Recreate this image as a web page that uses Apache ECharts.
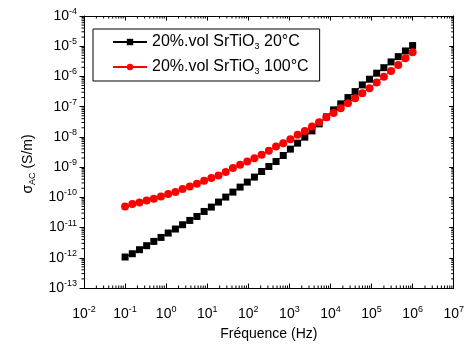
<!DOCTYPE html>
<html>
<head>
<meta charset="utf-8">
<script src="https://cdn.jsdelivr.net/npm/echarts@6/dist/echarts.min.js"></script>
<style>
  html, body { margin: 0; padding: 0; background: #fff; }
  #chart { width: 467px; height: 347px; }
</style>
</head>
<body>
<div id="chart"></div>
<script>
// frequency points (Hz)
const freq = [
  0.1, 0.15, 0.224, 0.335, 0.501, 0.75, 1.12, 1.68, 2.51, 3.76,
  5.62, 8.41, 12.6, 18.8, 28.2, 42.2, 63.1, 94.4, 141, 211,
  316, 473, 708, 1059, 1585, 2371, 3548, 5309, 7943, 11885,
  17783, 26607, 39811, 59566, 89125, 133352, 199526, 298538, 446684, 668344,
  1000000
];

// sigma AC (S/m), 20 °C
const sigma20 = [
  1.06e-12, 1.36e-12, 1.85e-12, 2.51e-12, 3.48e-12, 4.71e-12, 6.59e-12, 8.93e-12, 1.24e-11, 1.72e-11,
  2.33e-11, 3.41e-11, 4.76e-11, 6.97e-11, 1.02e-10, 1.49e-10, 2.18e-10, 3.19e-10, 4.68e-10, 7.16e-10,
  1.05e-9, 1.53e-9, 2.42e-9, 3.94e-9, 6.21e-9, 9.8e-9, 1.58e-8, 2.7e-8, 4.59e-8, 7.83e-8,
  1.24e-7, 2.0e-7, 3.15e-7, 5.25e-7, 8.09e-7, 1.28e-6, 1.95e-6, 3.02e-6, 4.52e-6, 6.97e-6,
  1.05e-5
];

// sigma AC (S/m), 100 °C
const sigma100 = [
  4.99e-11, 5.98e-11, 6.76e-11, 7.87e-11, 8.95e-11, 1.07e-10, 1.28e-10, 1.49e-10, 1.87e-10, 2.29e-10,
  2.81e-10, 3.52e-10, 4.34e-10, 5.27e-10, 6.89e-10, 9.27e-10, 1.19e-9, 1.53e-9, 1.98e-9, 2.55e-9,
  3.46e-9, 4.8e-9, 6.21e-9, 8.41e-9, 1.17e-8, 1.58e-8, 2.2e-8, 3.07e-8, 4.49e-8, 6.22e-8,
  8.91e-8, 1.3e-7, 1.91e-7, 2.79e-7, 4.08e-7, 6.25e-7, 9.86e-7, 1.52e-6, 2.4e-6, 4.0e-6,
  6.31e-6
];

const seriesNames = ['20%.vol SrTiO3 20°C', '20%.vol SrTiO3 100°C'];

// axis ranges in decades
const xDecades = [-2, 7];
const yDecades = [-13, -4];

const font = 'Liberation Sans, Arial, sans-serif';

// minor tick positions: 2..9 x 10^n inside each decade
function minorValues(d0, d1) {
  const out = [];
  for (let d = d0; d < d1; d++) {
    for (let m = 2; m <= 9; m++) out.push(m * Math.pow(10, d));
  }
  return out;
}
const xMinor = minorValues(xDecades[0], xDecades[1]);
const yMinor = minorValues(yDecades[0], yDecades[1]);

const xMin = Math.pow(10, xDecades[0]), xMax = Math.pow(10, xDecades[1]);
const yMin = Math.pow(10, yDecades[0]), yMax = Math.pow(10, yDecades[1]);

const powLabel = (v) => '10{sup|' + Math.round(Math.log10(v)) + '}';
const tickRich = {
  sup: { fontSize: 9, fontFamily: font, color: '#000', padding: [0, 0, 9, 0] }
};
const subRich = { sub: { fontSize: 9, fontFamily: font, color: '#000', padding: [9, 0, 0, 0] } };

const MINOR_LEN = 2.5;
const tickStyle = { stroke: '#000', lineWidth: 1 };

const chart = echarts.init(document.getElementById('chart'), null, { renderer: 'canvas' });

const option = {
  animation: false,
  textStyle: { fontFamily: font },
  grid: { left: 84, right: 13, top: 16, bottom: 59 },
  legend: {
    left: 93,
    top: 29,
    orient: 'vertical',
    itemWidth: 34,
    itemHeight: 8,
    itemGap: 8,
    padding: [5, 11, 5, 19],
    borderColor: '#000',
    borderWidth: 1,
    borderRadius: 0,
    textStyle: { fontFamily: font, fontSize: 16, color: '#000', rich: subRich },
    formatter: (name) => name.replace('SrTiO3', 'SrTiO{sub|3}'),
    data: seriesNames
  },
  xAxis: [
    {
      type: 'log', logBase: 10, position: 'bottom', min: xMin, max: xMax,
      axisLine: { lineStyle: { color: '#000', width: 1 } },
      splitLine: { show: false },
      axisTick: { show: true, inside: true, length: 4.5, lineStyle: { color: '#000' } },
      axisLabel: {
        color: '#000', fontSize: 14, fontFamily: font, margin: 17,
        formatter: powLabel, rich: tickRich
      },
      name: 'Fréquence (Hz)',
      nameLocation: 'middle',
      nameGap: 39,
      nameTextStyle: { color: '#000', fontSize: 14, fontFamily: font }
    },
    {
      type: 'log', logBase: 10, position: 'top', min: xMin, max: xMax,
      axisLine: { lineStyle: { color: '#000', width: 1 } },
      splitLine: { show: false },
      axisTick: { show: true, inside: true, length: 4.5, lineStyle: { color: '#000' } },
      axisLabel: { show: false }
    }
  ],
  yAxis: [
    {
      type: 'log', logBase: 10, position: 'left', min: yMin, max: yMax,
      axisLine: { lineStyle: { color: '#000', width: 1 } },
      splitLine: { show: false },
      axisTick: { show: true, inside: false, length: 4.5, lineStyle: { color: '#000' } },
      axisLabel: {
        color: '#000', fontSize: 14, fontFamily: font, margin: 7,
        formatter: powLabel, rich: tickRich
      },
      name: 'σ{sub|AC} (S/m)',
      nameLocation: 'middle',
      nameGap: 47,
      nameTextStyle: {
        color: '#000', fontSize: 14, fontFamily: font,
        padding: [0, 24, 0, 0],
        rich: subRich
      }
    },
    {
      type: 'log', logBase: 10, position: 'right', min: yMin, max: yMax,
      axisLine: { lineStyle: { color: '#000', width: 1 } },
      splitLine: { show: false },
      axisTick: { show: true, inside: true, length: 4.5, lineStyle: { color: '#000' } },
      axisLabel: { show: false }
    }
  ],
  series: [
    {
      // minor ticks on bottom (inward) and top (inward) axes
      type: 'custom',
      silent: true,
      clip: false,
      data: xMinor.map((v) => [v, yMin]),
      renderItem: (params, api) => {
        const bottom = api.coord([api.value(0), yMin]);
        const top = api.coord([api.value(0), yMax]);
        return {
          type: 'group',
          children: [
            { type: 'line', shape: { x1: bottom[0], y1: bottom[1], x2: bottom[0], y2: bottom[1] - MINOR_LEN }, style: tickStyle },
            { type: 'line', shape: { x1: top[0], y1: top[1], x2: top[0], y2: top[1] + MINOR_LEN }, style: tickStyle }
          ]
        };
      }
    },
    {
      // minor ticks on left (outward) and right (inward) axes
      type: 'custom',
      silent: true,
      clip: false,
      data: yMinor.map((v) => [xMin, v]),
      renderItem: (params, api) => {
        const left = api.coord([xMin, api.value(1)]);
        const right = api.coord([xMax, api.value(1)]);
        return {
          type: 'group',
          children: [
            { type: 'line', shape: { x1: left[0], y1: left[1], x2: left[0] - MINOR_LEN, y2: left[1] }, style: tickStyle },
            { type: 'line', shape: { x1: right[0], y1: right[1], x2: right[0] - MINOR_LEN, y2: right[1] }, style: tickStyle }
          ]
        };
      }
    },
    {
      name: seriesNames[0],
      type: 'line',
      symbol: 'rect',
      symbolSize: 7,
      color: '#000',
      lineStyle: { color: '#000', width: 1 },
      itemStyle: { color: '#000' },
      data: freq.map((f, i) => [f, sigma20[i]])
    },
    {
      name: seriesNames[1],
      type: 'line',
      symbol: 'circle',
      symbolSize: 8,
      color: '#ff0000',
      lineStyle: { color: '#ff0000', width: 1 },
      itemStyle: { color: '#ff0000' },
      data: freq.map((f, i) => [f, sigma100[i]])
    }
  ]
};

chart.setOption(option);
</script>
</body>
</html>
